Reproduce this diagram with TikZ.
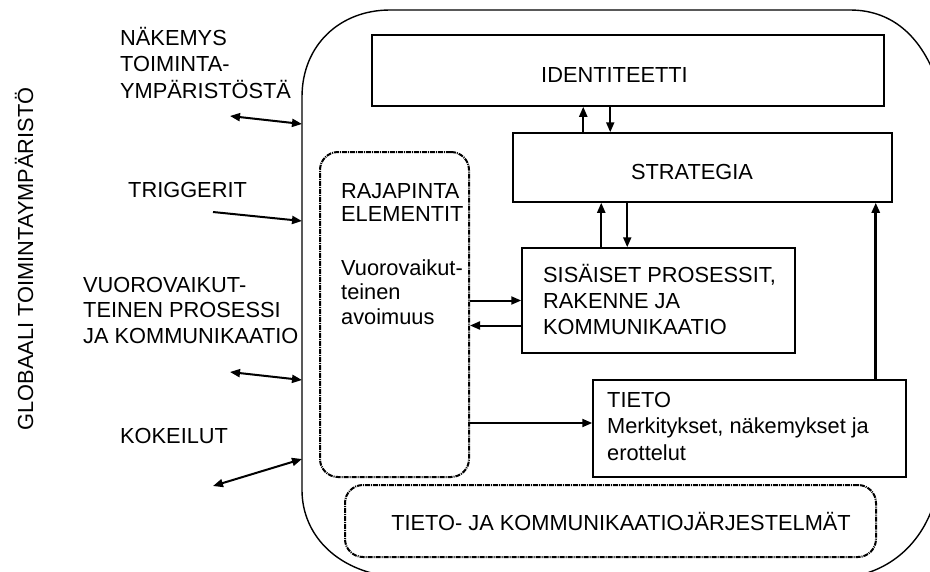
\documentclass[tikz,border=0pt]{standalone}
\usepackage{fontspec}
\setmainfont{Liberation Sans}
\usetikzlibrary{arrows.meta}
\newcommand\capstrut{\rule{0pt}{20pt}}
\begin{document}
\begin{tikzpicture}[x=1pt,y=-1pt,
  txt/.style={font=\fontsize{21.8}{26.5}\selectfont, inner sep=0pt},
  lbl/.style={txt, align=left, anchor=north west},
  one/.style={txt, anchor=base},
  box/.style={draw, line width=1.5pt, inner sep=0pt},
  dotbox/.style={draw, line width=2pt, inner sep=0pt, rounded corners=18pt,
    dash pattern=on 5pt off 1pt on 1pt off 1pt},
  frame/.style={draw, line width=1.4pt},
  tip/.tip={Triangle[length=10pt,width=8pt]},
  arr/.style={line width=2pt, -tip},
  dblarr/.style={line width=2pt, tip-tip},
]
\useasboundingbox (0,0) rectangle (930,571);

% organisation boundary (runs off the page on the right and at the bottom)
\draw[frame] (302,490) -- (302,97) .. controls (302,45) and (340,10) .. (390,10)
  -- (850,10) .. controls (895,10) and (925,40) .. (940,90) -- (950,200) -- (950,450)
  -- (935,500) .. controls (925,535) and (900,565) .. (860,575) -- (380,575)
  .. controls (330,565) and (302,530) .. cycle;

% boxes
\node[box, minimum width=512pt, minimum height=71pt] (ident) at (628,70.5) {};
\node[box, minimum width=379pt, minimum height=69pt] (strat) at (702.5,167.5) {};
\node[box, minimum width=273pt, minimum height=105pt] (sis) at (658.5,300.5) {};
\node[box, minimum width=313pt, minimum height=97pt] (tieto) at (749.5,428.5) {};
\node[dotbox, minimum width=149pt, minimum height=325pt] (raja) at (394.5,314.5) {};
\node[dotbox, minimum width=531pt, minimum height=72pt] (tks) at (610.5,521) {};

% box texts
\node[one] (identT) at (614.5,82) {IDENTITEETTI};
\node[one] (stratT) at (692,179) {STRATEGIA};
\node[lbl, font=\fontsize{21.8}{26}\selectfont] (sisT) at (543,262.7)
  {\capstrut SISÄISET PROSESSIT,\\RAKENNE JA\\KOMMUNIKAATIO};
\node[lbl] (tietoT) at (607,387) {\capstrut TIETO\\Merkitykset, näkemykset ja\\erottelut};
\node[lbl, font=\fontsize{21.8}{23.5}\selectfont] (rajaT) at (341,178) {\capstrut RAJAPINTA\\ELEMENTIT};
\node[lbl, font=\fontsize{21.8}{24.5}\selectfont] (rajaS) at (341,255) {\capstrut Vuorovaikut-\\teinen\\avoimuus};
\node[one] (tksT) at (621,530) {TIETO- JA KOMMUNIKAATIOJÄRJESTELMÄT};

% environment labels
\node[txt, rotate=90] (glob) at (24,259) {GLOBAALI TOIMINTAYMPÄRISTÖ};
\node[lbl] (nak) at (120,25) {\capstrut NÄKEMYS\\TOIMINTA-\\YMPÄRISTÖSTÄ};
\node[lbl] (trig) at (128,177) {\capstrut TRIGGERIT};
\node[lbl, font=\fontsize{21.8}{25.5}\selectfont] (vuo) at (83,272) {\capstrut VUOROVAIKUT-\\TEINEN PROSESSI\\JA KOMMUNIKAATIO};
\node[lbl] (kok) at (120,423) {\capstrut KOKEILUT};

% internal connectors
\coordinate (su1) at ([xshift=71pt]strat.north west);
\coordinate (sd1) at ([xshift=98pt]strat.north west);
\draw[arr] (su1) -- (su1 |- ident.south);
\draw[arr] (sd1 |- ident.south) -- (sd1);
\coordinate (su2) at ([xshift=80pt]sis.north west);
\coordinate (sd2) at ([xshift=106pt]sis.north west);
\draw[arr] (su2) -- (su2 |- strat.south);
\draw[arr] (sd2 |- strat.south) -- (sd2);
\coordinate (sin) at (sis.west);
\coordinate (sout) at ([yshift=-25pt]sis.west);
\draw[arr] (raja.east |- sin) -- (sin);
\draw[arr] (sout) -- (raja.east |- sout);
\coordinate (tin) at ([yshift=5.5pt]tieto.west);
\draw[arr] (raja.east |- tin) -- (tin);
\coordinate (tup) at ([xshift=-31pt]tieto.north east);
\draw[arr, line width=3pt] (tup) -- (tup |- strat.south);

% exchanges across the boundary
\coordinate (e1) at (230,116);  \coordinate (b1) at (302,124);
\coordinate (e2) at (213,212);  \coordinate (b2) at (302,221);
\coordinate (e3) at (230,372);  \coordinate (b3) at (302,380);
\coordinate (e4) at (213,486);  \coordinate (b4) at (302,459);
\draw[dblarr] (e1) -- (b1);
\draw[arr] (e2) -- (b2);
\draw[dblarr] (e3) -- (b3);
\draw[dblarr] (e4) -- (b4);
\end{tikzpicture}
\end{document}
